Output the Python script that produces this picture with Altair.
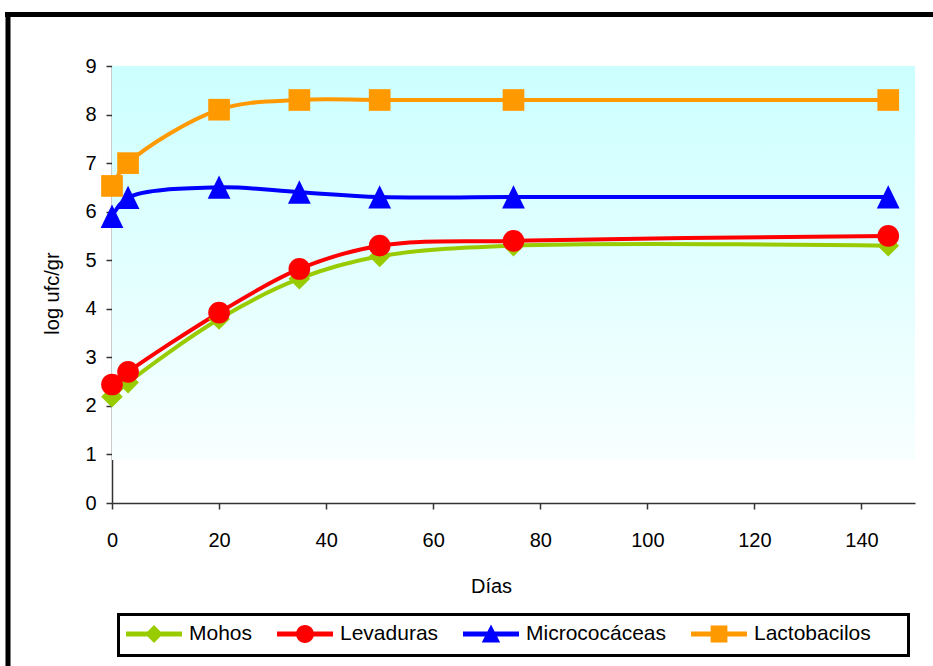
import altair as alt
import pandas as pd

# ---- data ----
dias = [0, 3, 20, 35, 50, 75, 145]
mohos = [2.19, 2.48, 3.79, 4.62, 5.08, 5.30, 5.30]
levaduras = [2.44, 2.70, 3.92, 4.82, 5.30, 5.40, 5.50]
micrococaceas = [5.90, 6.29, 6.50, 6.40, 6.30, 6.30, 6.30]
lactobacilos = [6.53, 7.00, 8.10, 8.30, 8.30, 8.30, 8.30]

series = ["Mohos", "Levaduras", "Micrococáceas", "Lactobacilos"]
colors = ["#99CC00", "#FF0000", "#0000FF", "#FF9900"]
x_ticks = [0, 20, 40, 60, 80, 100, 120, 140]
y_ticks = [0, 1, 2, 3, 4, 5, 6, 7, 8, 9]

rows = []
for i, (name, vals) in enumerate(zip(series, [mohos, levaduras, micrococaceas, lactobacilos])):
    for d, v in zip(dias, vals):
        rows.append({"dias": d, "valor": v, "grupo": name, "orden": i})
df = pd.DataFrame(rows)

W, H = 803, 437
PL, PT = 112, 66
FONT = "Liberation Sans"

x = alt.X(
    "dias:Q",
    scale=alt.Scale(domain=[0, 150], nice=False, zero=False),
    axis=alt.Axis(
        values=x_ticks, title="Días", grid=False,
        titleFont=FONT, titleFontSize=20, titleFontWeight="normal", titleColor="black",
        titleX=379, titleY=89, titleBaseline="alphabetic",
        labelFont=FONT, labelFontSize=20, labelColor="black", labelPadding=21,
        labelFlush=False, labelOverlap=False,
        tickSize=6, tickColor="#333333", tickWidth=1.5,
        domainColor="#333333", domainWidth=1.5,
    ),
)
y = alt.Y(
    "valor:Q",
    scale=alt.Scale(domain=[0, 9], nice=False),
    axis=alt.Axis(
        values=y_ticks, title="log ufc/gr", grid=False,
        titleFont=FONT, titleFontSize=20, titleFontWeight="normal", titleColor="black",
        titleX=-50, titleY=227,
        labelFont=FONT, labelFontSize=20, labelColor="black", labelPadding=10,
        labelFlush=False, labelOverlap=False,
        tickSize=6, tickColor="#333333", tickWidth=1.5,
        domainColor="#333333", domainWidth=1.5,
    ),
)

one = pd.DataFrame({"a": [0]})

bg = alt.Chart(one).mark_rect(
    fill=alt.Gradient(
        gradient="linear",
        stops=[alt.GradientStop(color="#CCFFFF", offset=0),
               alt.GradientStop(color="#F8FFFF", offset=1)],
        x1=0, x2=0, y1=0, y2=1,
    )
).encode(x=alt.value(0), x2=alt.value(W), y=alt.value(0), y2=alt.value(394))

lines = alt.Chart(df).mark_line(interpolate="catmull-rom", strokeWidth=4).encode(
    x=x, y=y,
    color=alt.Color("grupo:N", scale=alt.Scale(domain=series, range=colors), legend=None),
    detail="grupo:N",
)

tri = "M0,-1.1L1.05,1.05L-1.05,1.05Z"
points = alt.Chart(df).mark_point(filled=True, size=470, opacity=1, strokeWidth=0).encode(
    x=x, y=y,
    color=alt.Color("grupo:N", scale=alt.Scale(domain=series, range=colors), legend=None),
    shape=alt.Shape("grupo:N", scale=alt.Scale(domain=series, range=["diamond", "circle", tri, "square"]), legend=None),
    order=alt.Order("orden:Q"),
)

bar = "M-1,-0.09H1V0.09H-1Z"
leg_shapes = [
    bar + "M0,-0.32L0.32,0L0,0.32L-0.32,0Z",
    bar + "M-0.32,0A0.32,0.32,0,1,1,0.32,0A0.32,0.32,0,1,1,-0.32,0Z",
    bar + "M0,-0.34L0.33,0.3L-0.33,0.3Z",
    bar + "M-0.3,-0.3H0.3V0.3H-0.3Z",
]
leg = alt.Legend(
    title=None, orient="none", legendX=14, legendY=540, direction="horizontal",
    symbolSize=3136, symbolStrokeWidth=0,
    labelFont=FONT, labelFontSize=21, labelColor="black", labelOffset=7,
    labelLimit=400, columnPadding=24, padding=0,
)
legend_layer = alt.Chart(df).transform_filter("false").mark_point(filled=True, opacity=1).encode(
    x=x, y=y,
    color=alt.Color("grupo:N", scale=alt.Scale(domain=series, range=colors), legend=leg),
    shape=alt.Shape("grupo:N", scale=alt.Scale(domain=series, range=leg_shapes), legend=leg),
)

top_bar = alt.Chart(one).mark_rule(color="black", strokeWidth=5).encode(
    x=alt.value(5 - PL), x2=alt.value(933 - PL), y=alt.value(14.5 - PT))
left_bar = alt.Chart(one).mark_rule(color="black", strokeWidth=5).encode(
    x=alt.value(8 - PL), y=alt.value(12 - PT), y2=alt.value(666 - PT))
legend_box = alt.Chart(one).mark_rect(fill="transparent", stroke="black", strokeWidth=3).encode(
    x=alt.value(118.5 - PL), x2=alt.value(908.5 - PL),
    y=alt.value(614.5 - PT), y2=alt.value(655.5 - PT))

chart = alt.layer(bg, lines, points, legend_layer, top_bar, left_bar, legend_box).resolve_scale(
    color="independent", shape="independent"
).properties(
    width=W, height=H,
    autosize=alt.AutoSizeParams(type="none"),
    padding={"left": PL, "top": PT, "right": 933 - PL - W, "bottom": 666 - PT - H},
    background="white",
).configure_view(stroke="transparent")

chart.save("out.html", embed_options={"renderer": "svg", "actions": False})
